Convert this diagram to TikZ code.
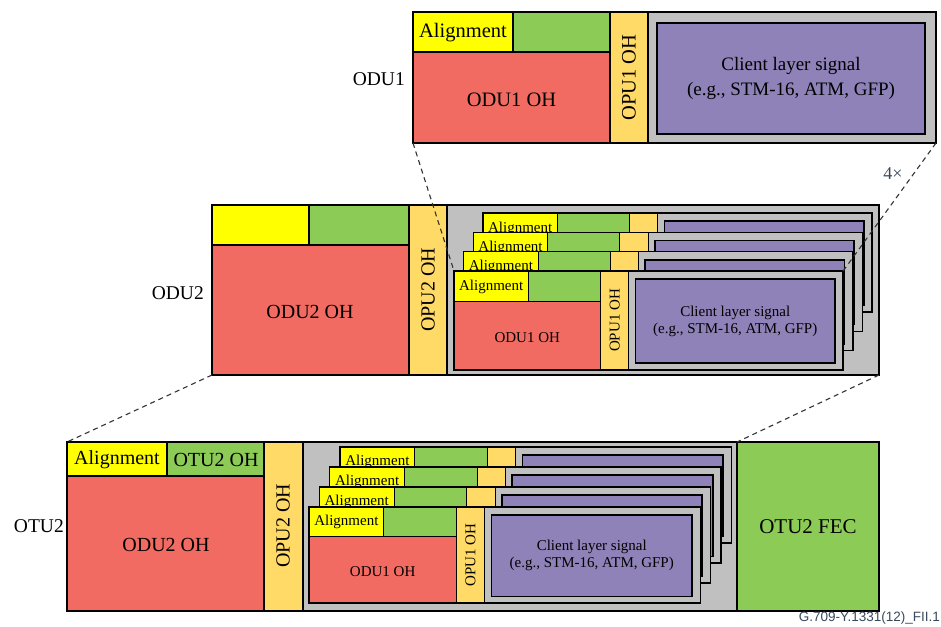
\documentclass[tikz,border=0pt]{standalone}
\usepackage{fontspec}
\setmainfont{Liberation Serif}
\setsansfont{Liberation Sans}
\definecolor{cyel}{HTML}{FFFF00}
\definecolor{cgreen}{HTML}{8CCB56}
\definecolor{cred}{HTML}{F26B62}
\definecolor{copu}{HTML}{FFDA66}
\definecolor{cgrey}{HTML}{C0C0C0}
\definecolor{cpurple}{HTML}{8E82B8}
\definecolor{footc}{HTML}{3A4A5C}
\definecolor{dashc}{HTML}{333333}
\tikzset{
  cell/.style={draw=black,line width=1.1pt},
  outerbox/.style={draw=black,line width=1.4pt},
  purplebox/.style={draw=black,line width=1.7pt,fill=cpurple},
  lbl/.style={inner sep=0pt,text=black},
  conn/.style={draw=dashc,line width=1.1pt,dash pattern=on 5pt off 4pt},
  sidelbl/.style={inner sep=0pt,anchor=east,font=\fontsize{19.5}{21}\selectfont}
}
% ODU1 frame shapes: #1,#2 top-left; #3 xscale; #4 yscale; #5 font size; #6 name
\newcommand\oduoneframe[6]{%
\begin{scope}[shift={(#1,#2)},xscale=#3,yscale=#4]
  \path[cell,fill=cgrey] (235,0) rectangle (523,131);
  \path[purplebox] (244,11) rectangle (512,122);
  \path[cell,fill=cyel] (0,0) rectangle (100,40);
  \path[cell,fill=cgreen] (100,0) rectangle (197,40);
  \path[cell,fill=cred] (0,40) rectangle (197,131);
  \path[cell,fill=copu] (197,0) rectangle (235,131);
  \draw[outerbox] (0,0) rectangle (523,131);
  \coordinate (#6-nw) at (0,0);
  \coordinate (#6-ne) at (523,0);
  \coordinate (#6-sw) at (0,131);
  \coordinate (#6-se) at (523,131);
  \coordinate (#6-oh) at (98.5,88);
  \coordinate (#6-opu) at (216,65.5);
  \coordinate (#6-cl) at (378,66.5);
  \node[lbl,font=\fontsize{#5}{#5}\selectfont] (#6-al) at (50,20.5) {Alignment};
\end{scope}}
% ODU1 frame texts: #1 name; #2 font size; #3 baselineskip; #4 client font size
\newcommand\oduonetexts[4]{%
  \node[lbl,font=\fontsize{#2}{#2}\selectfont] (#1-ohtext) at (#1-oh) {ODU1 OH};
  \node[lbl,rotate=90,font=\fontsize{#2}{#2}\selectfont] (#1-opuTxt) at (#1-opu) {OPU1 OH};
  \node[lbl,align=center,font=\fontsize{#4}{#3}\selectfont] (#1-client) at (#1-cl) {Client layer signal\\(e.g., STM-16, ATM, GFP)};
}
\begin{document}
\begin{tikzpicture}[x=1pt,y=-1pt]
\fill[white] (0,0) rectangle (941,626);
\useasboundingbox (0,0) rectangle (941,626);

% ---------- top ODU1 ----------
\oduoneframe{413}{12}{1}{1}{20.5}{top}
\oduonetexts{top}{20.5}{25}{19}
\node[sidelbl] (lodu1) at (405,79) {ODU1};

% ---------- middle ODU2 ----------
\path[cell,fill=cgrey] (447,205) rectangle (879,375);
\path[cell,fill=cyel] (212,205) rectangle (309,245);
\path[cell,fill=cgreen] (309,205) rectangle (409,245);
\path[cell,fill=cred] (212,245) rectangle (409,375);
\path[cell,fill=copu] (409,205) rectangle (447,375);
\draw[outerbox] (212,205) rectangle (879,375);
\coordinate (mid-nw) at (212,205);
\coordinate (mid-sw) at (212,375);
\coordinate (mid-se) at (879,375);
\node[lbl,font=\fontsize{20}{20}\selectfont] (mohtxt) at (310,312) {ODU2 OH};
\node[lbl,rotate=90,font=\fontsize{20}{20}\selectfont] (mopu) at (428,290) {OPU2 OH};
\node[sidelbl] (lodu2) at (204,293) {ODU2};
\oduoneframe{483}{213}{0.744}{0.756}{15}{mA}
\oduoneframe{473.3}{232.3}{0.744}{0.756}{15}{mB}
\oduoneframe{463.7}{251.7}{0.744}{0.756}{15}{mC}
\oduoneframe{454}{271}{0.744}{0.756}{15}{mD}
\oduonetexts{mD}{15}{17}{15}

% ---------- bottom OTU2 ----------
\path[cell,fill=cgrey] (303,442) rectangle (737,611);
\path[cell,fill=cgreen] (737,442) rectangle (879,611);
\path[cell,fill=cyel] (67,442) rectangle (167,476);
\path[cell,fill=cgreen] (167,442) rectangle (264,476);
\path[cell,fill=cred] (67,476) rectangle (264,611);
\path[cell,fill=copu] (264,442) rectangle (303,611);
\draw[outerbox] (67,442) rectangle (879,611);
\coordinate (bot-nw) at (67,442);
\coordinate (bot-fec) at (737,442);
\node[lbl,font=\fontsize{20}{20}\selectfont] (balign) at (117,459.5) {Alignment};
\node[lbl,font=\fontsize{20}{20}\selectfont] (botuoh) at (216,459.5) {OTU2 OH};
\node[lbl,font=\fontsize{20}{20}\selectfont] (bohtxt) at (166,545) {ODU2 OH};
\node[lbl,rotate=90,font=\fontsize{20}{20}\selectfont] (bopu) at (283,526) {OPU2 OH};
\node[lbl,font=\fontsize{21}{21}\selectfont] (bfec) at (808,527) {OTU2 FEC};
\node[sidelbl] (lotu2) at (64,526) {OTU2};
\oduoneframe{340}{447}{0.748}{0.733}{15}{bA}
\oduoneframe{329.7}{467}{0.748}{0.733}{15}{bB}
\oduoneframe{319.3}{487}{0.748}{0.733}{15}{bC}
\oduoneframe{309}{507}{0.748}{0.733}{15}{bD}
\oduonetexts{bD}{15}{17}{15}

% ---------- dashed connectors ----------
\draw[conn] (top-sw) -- (mD-nw);
\draw[conn] (top-se) -- (mD-ne);
\draw[conn] (mid-sw) -- (bot-nw);
\draw[conn] (mid-se) -- (bot-fec);

\node[lbl,text=footc,font=\fontsize{18}{18}\selectfont] (four) at (893,174) {4×};
\node[lbl,anchor=east,text=footc,font=\sffamily\fontsize{13.5}{13.5}\selectfont] (fig) at (940,618) {G.709-Y.1331(12)\_FII.1};
\end{tikzpicture}
\end{document}
